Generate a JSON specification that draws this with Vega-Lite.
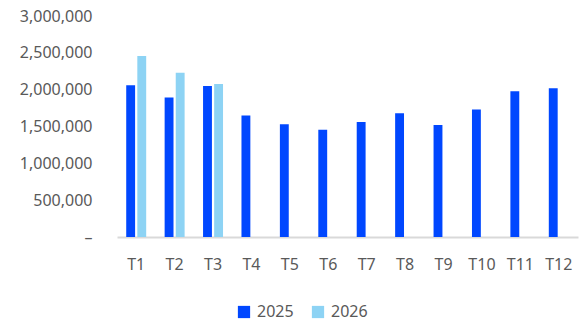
{
  "$schema": "https://vega.github.io/schema/vega-lite/v6.json",
  "width": 461,
  "height": 221,
  "autosize": "none",
  "padding": {"left": 117, "top": 16, "right": 8, "bottom": 85},
  "background": "white",
  "config": {
    "view": {"stroke": null},
    "font": "Noto Sans",
    "axis": {"labelFont": "Noto Sans", "labelColor": "#595959", "labelFontSize": 16},
    "legend": {"labelFont": "Noto Sans", "labelColor": "#595959", "labelFontSize": 16}
  },
  "data": {
    "values": [
      {"month": "T1", "year": "2025", "value": 2060000},
      {"month": "T1", "year": "2026", "value": 2456000},
      {"month": "T2", "year": "2025", "value": 1895000},
      {"month": "T2", "year": "2026", "value": 2230000},
      {"month": "T3", "year": "2025", "value": 2050000},
      {"month": "T3", "year": "2026", "value": 2076000},
      {"month": "T4", "year": "2025", "value": 1650000},
      {"month": "T5", "year": "2025", "value": 1530000},
      {"month": "T6", "year": "2025", "value": 1457000},
      {"month": "T7", "year": "2025", "value": 1560000},
      {"month": "T8", "year": "2025", "value": 1680000},
      {"month": "T9", "year": "2025", "value": 1520000},
      {"month": "T10", "year": "2025", "value": 1730000},
      {"month": "T11", "year": "2025", "value": 1980000},
      {"month": "T12", "year": "2025", "value": 2020000}
    ]
  },
  "mark": {"type": "bar"},
  "encoding": {
    "x": {
      "field": "month", "type": "nominal",
      "sort": ["T1","T2","T3","T4","T5","T6","T7","T8","T9","T10","T11","T12"],
      "scale": {"paddingInner": 0.48, "paddingOuter": 0.24},
      "axis": {"title": null, "labelAngle": 0, "ticks": false, "domainColor": "#d9d9d9", "domainWidth": 2, "labelPadding": 19, "grid": false}
    },
    "xOffset": {
      "field": "year", "type": "nominal",
      "scale": {"domain": ["2025", "2026"], "paddingInner": 0.2}
    },
    "y": {
      "field": "value", "type": "quantitative",
      "scale": {"domain": [0, 3000000], "nice": false},
      "axis": {"title": null, "grid": false, "domain": false, "ticks": false, "labelOverlap": false, "values": [0,500000,1000000,1500000,2000000,2500000,3000000], "labelPadding": 25, "labelExpr": "datum.value == 0 ? '–' : format(datum.value, ',')",
        "encode": {"labels": {"update": {"dx": {"signal": "datum.value == 0 ? -9 : 0"}}}}}
    },
    "color": {
      "field": "year", "type": "nominal",
      "scale": {"domain": ["2025", "2026"], "range": ["#0047FF", "#8DD3F4"]},
      "legend": {"title": null, "orient": "none", "direction": "horizontal", "legendX": 119, "legendY": 288, "symbolType": "square", "symbolSize": 150, "symbolStrokeWidth": 0, "symbolOpacity": 1, "columnPadding": 16, "labelOffset": 5}
    }
  }
}
